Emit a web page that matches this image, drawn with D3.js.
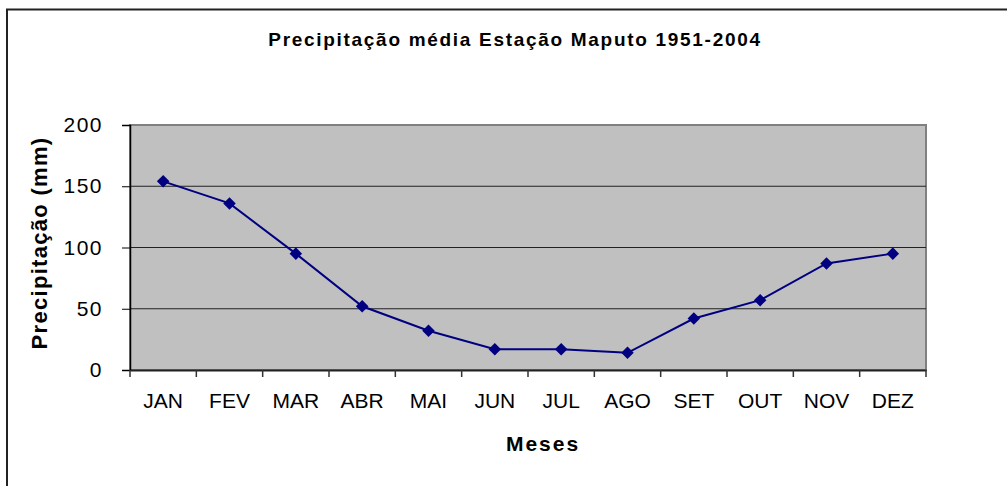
<!DOCTYPE html>
<html>
<head>
<meta charset="utf-8">
<script src="https://cdn.jsdelivr.net/npm/d3@7"></script>
<style>
  body { margin: 0; background: #fff; }
  text { font-family: "Liberation Sans", Arial, sans-serif; fill: #000; }
</style>
</head>
<body>
<svg width="1007" height="486"></svg>
<script>
var months = ['JAN','FEV','MAR','ABR','MAI','JUN','JUL','AGO','SET','OUT','NOV','DEZ'];
var rain = [154, 136, 95, 52, 32, 17, 17, 14, 42, 57, 87, 95];
var yTicks = [0, 50, 100, 150, 200];

var svg = d3.select('svg');

// outer chart frame (top + left)
svg.append('path')
    .attr('d', 'M7,486 V9.5 H1007')
    .attr('fill', 'none')
    .attr('stroke', '#222')
    .attr('stroke-width', 2);

var pLeft = 130, pRight = 926, pTop = 125, pBottom = 370;

var x = d3.scaleBand().domain(months).range([pLeft, pRight]);
var y = d3.scaleLinear().domain([0, 200]).range([pBottom, pTop]);

// plot area
svg.append('rect')
    .attr('x', pLeft).attr('y', pTop)
    .attr('width', pRight - pLeft).attr('height', pBottom - pTop)
    .attr('fill', '#c0c0c0')
    .attr('stroke', '#808080')
    .attr('stroke-width', 2);

// gridlines
svg.selectAll('line.grid')
    .data(yTicks.filter(function(d) { return d > 0 && d < 200; }))
    .enter()
    .append('line')
    .attr('class', 'grid')
    .attr('x1', pLeft).attr('x2', pRight)
    .attr('y1', function(d) { return y(d); })
    .attr('y2', function(d) { return y(d); })
    .attr('stroke', '#222')
    .attr('stroke-width', 1);

// y axis
var yAxis = svg.append('g')
    .attr('transform', 'translate(' + pLeft + ',0)')
    .call(d3.axisLeft(y).tickValues(yTicks).tickSize(8).tickPadding(19));
yAxis.select('.domain').attr('stroke', '#000').attr('stroke-width', 1.5);
yAxis.selectAll('.tick line').attr('stroke', '#000');
yAxis.selectAll('text')
    .style('font-size', '21px')
    .style('letter-spacing', '1.5px')
    .style('font-family', '"Liberation Sans", Arial, sans-serif');

// x axis
var xAxis = svg.append('g')
    .attr('transform', 'translate(0,' + pBottom + ')')
    .call(d3.axisBottom(x).tickSize(0).tickPadding(23));
xAxis.select('.domain').attr('stroke', '#222').attr('stroke-width', 2);
xAxis.selectAll('text')
    .style('font-size', '21px')
    .style('font-family', '"Liberation Sans", Arial, sans-serif');

// tick marks on band boundaries
var bounds = months.map(function(m) { return x(m); }).concat([pRight]);
svg.selectAll('line.xtick')
    .data(bounds)
    .enter()
    .append('line')
    .attr('class', 'xtick')
    .attr('x1', function(d) { return d; })
    .attr('x2', function(d) { return d; })
    .attr('y1', pBottom)
    .attr('y2', pBottom + 7)
    .attr('stroke', '#333')
    .attr('stroke-width', 1.5);

// line
var line = d3.line()
    .x(function(d, i) { return x(months[i]) + x.bandwidth() / 2; })
    .y(function(d) { return y(d); });

svg.append('path')
    .datum(rain)
    .attr('d', line)
    .attr('fill', 'none')
    .attr('stroke', '#000080')
    .attr('stroke-width', 2);

svg.selectAll('path.pt')
    .data(rain)
    .enter()
    .append('path')
    .attr('class', 'pt')
    .attr('d', d3.symbol().type(d3.symbolDiamond2).size(100))
    .attr('transform', function(d, i) {
      return 'translate(' + (x(months[i]) + x.bandwidth() / 2) + ',' + y(d) + ')';
    })
    .attr('fill', '#000080');

// titles
svg.append('text')
    .attr('x', 515).attr('y', 46)
    .attr('text-anchor', 'middle')
    .style('font-size', '19px')
    .style('font-weight', 'bold')
    .style('letter-spacing', '1.7px')
    .text('Precipitação média Estação Maputo 1951-2004');

svg.append('text')
    .attr('x', 543).attr('y', 451)
    .attr('text-anchor', 'middle')
    .style('font-size', '21px')
    .style('font-weight', 'bold')
    .style('letter-spacing', '2px')
    .text('Meses');

svg.append('text')
    .attr('transform', 'translate(47,243) rotate(-90)')
    .attr('text-anchor', 'middle')
    .style('font-size', '22px')
    .style('font-weight', 'bold')
    .style('letter-spacing', '1.3px')
    .text('Precipitação (mm)');
</script>
</body>
</html>
